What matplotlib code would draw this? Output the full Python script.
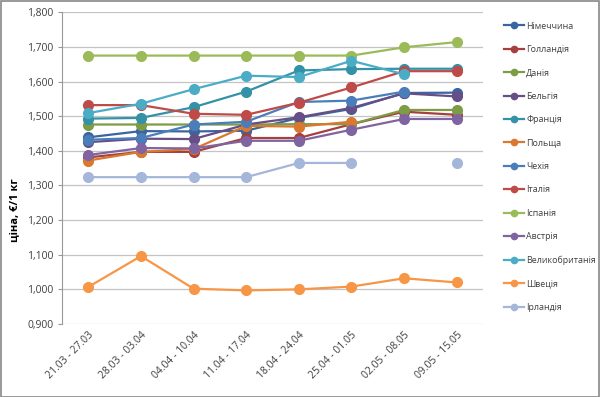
import numpy as np
import matplotlib
matplotlib.use('Agg')
import matplotlib.pyplot as plt
from matplotlib.patches import Rectangle

plt.rcParams['font.family'] = ['Open Sans', 'DejaVu Sans']

weeks = ['21.03 - 27.03', '28.03 - 03.04', '04.04 - 10.04', '11.04 - 17.04',
         '18.04 - 24.04', '25.04 - 01.05', '02.05 - 08.05', '09.05 - 15.05']

nan = np.nan
germany = [1.439, 1.457, 1.456, 1.458, 1.495, 1.521, 1.567, 1.568]
netherlands = [1.381, 1.397, 1.397, 1.437, 1.437, 1.477, 1.513, 1.504]
denmark = [1.476, 1.476, 1.476, 1.476, 1.477, 1.477, 1.518, 1.518]
belgium = [1.425, 1.435, 1.434, 1.476, 1.497, 1.524, 1.566, 1.557]
france = [1.493, 1.495, 1.526, 1.571, 1.632, 1.636, 1.637, 1.637]
poland = [1.372, 1.397, 1.405, 1.472, 1.470, 1.484, nan, nan]
czechia = [1.432, 1.437, 1.476, 1.484, 1.541, 1.545, 1.571, nan]
italy = [1.532, 1.532, 1.507, 1.504, 1.539, 1.583, 1.630, 1.630]
spain = [1.675, 1.675, 1.675, 1.675, 1.675, 1.675, 1.699, 1.714]
austria = [1.388, 1.408, 1.407, 1.429, 1.429, 1.461, 1.492, 1.492]
uk = [1.509, 1.536, 1.578, 1.617, 1.613, 1.660, 1.621, nan]
sweden = [1.007, 1.096, 1.002, 0.997, 1.000, 1.008, 1.032, 1.020]
ireland = [1.324, 1.324, 1.324, 1.324, 1.365, 1.365, nan, 1.365]

series = [
    ('Німеччина', germany, '#3A65A0'),
    ('Голландія', netherlands, '#A5403E'),
    ('Данія', denmark, '#7E9B45'),
    ('Бельгія', belgium, '#664E86'),
    ('Франція', france, '#3391A8'),
    ('Польща', poland, '#D9782F'),
    ('Чехія', czechia, '#4A7EBB'),
    ('Італія', italy, '#BE4B48'),
    ('Іспанія', spain, '#9BBB59'),
    ('Австрія', austria, '#8064A2'),
    ('Великобританія', uk, '#4BACC6'),
    ('Швеція', sweden, '#F79646'),
    ('Ірландія', ireland, '#A5B6DB'),
]

fig = plt.figure(figsize=(6, 3.97), dpi=100)
ax = fig.add_axes([62/600, 1 - 324/397, (483 - 62)/600, (324 - 12.3)/397])

x = np.arange(len(weeks))
handles = []
for name, vals, col in series:
    ax.plot(x, vals, color=col, lw=1.6, marker='o', ms=7, mec=col, mfc=col)
    h, = plt.plot([], [], color=col, lw=1.6, marker='o', ms=4.5, label=name)
    handles.append(h)

ax.set_xlim(-0.5, 7.5)
ax.set_ylim(0.9, 1.8)
yt = np.arange(0.9, 1.801, 0.1)
ax.set_yticks(yt)
ax.set_yticklabels([f'{v:.3f}'.replace('.', ',') for v in yt], fontsize=7.5, color='#404040')
ax.set_xticks(x)
ax.set_xticklabels(weeks, rotation=45, ha='right', rotation_mode='anchor', fontsize=7.5, color='#404040')
ax.tick_params(axis='x', length=0, pad=4)
ax.tick_params(axis='y', length=3, color='#999999', pad=3)
ax.grid(axis='y', color='#C4C4C4', lw=0.9)
ax.set_axisbelow(True)
for s in ['top', 'right', 'bottom']:
    ax.spines[s].set_visible(False)
ax.spines['left'].set_color('#999999')

fig.text(15/600, 187/397, 'ціна, €/1 кг', rotation=90, fontsize=8, fontweight='bold',
         ha='center', va='center')

fig.legend(handles=handles, loc='upper left', bbox_to_anchor=(500/600, 1 - 18/397),
           frameon=False, fontsize=6.4, handlelength=2.3, handletextpad=0.25,
           labelspacing=1.62, borderaxespad=0, labelcolor='#404040')

fig.patches.append(Rectangle((0.5/600, 0.5/397), 598/600, 395.5/397, transform=fig.transFigure,
                             fill=False, edgecolor='#888888', lw=1.2))

fig.savefig('out.png', dpi=100)
